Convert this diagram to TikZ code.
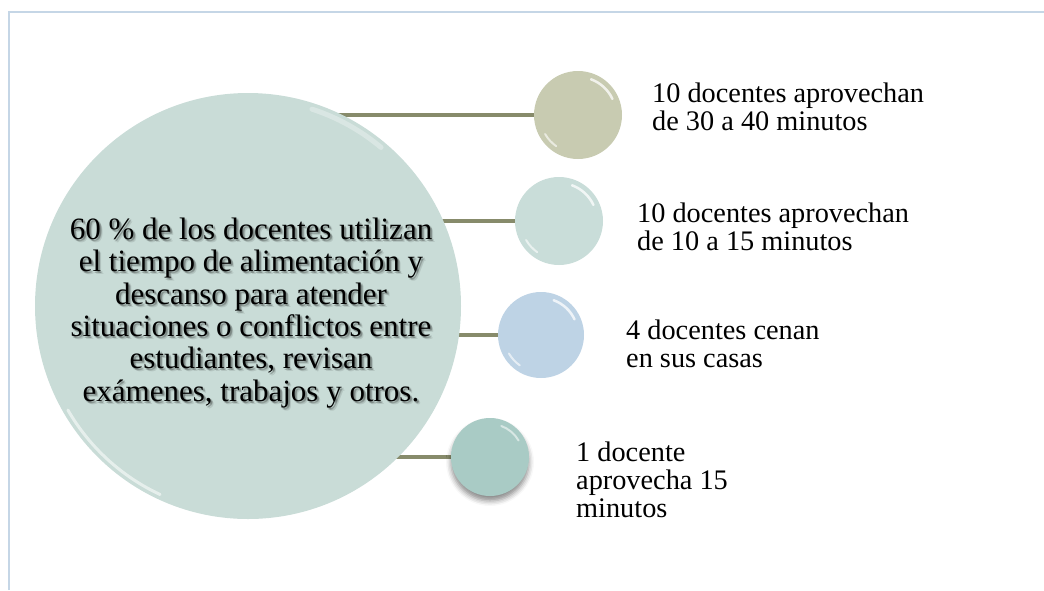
\documentclass[tikz,border=0pt]{standalone}
\usepackage{fontspec}
\setmainfont{Liberation Serif}
\usetikzlibrary{shadows.blur,calc}
\definecolor{bordc}{HTML}{C5D6E6}
\definecolor{linec}{HTML}{878B6B}
\definecolor{mainc}{HTML}{C9DCD7}
\definecolor{ca}{HTML}{C8CBB1}
\definecolor{cb}{HTML}{C9DDD9}
\definecolor{cc}{HTML}{BED3E5}
\definecolor{cd}{HTML}{A9CBC5}
\newcommand\maintext{60 \% de los docentes utilizan\\el tiempo de alimentación y\\descanso para atender\\situaciones o conflictos entre\\estudiantes, revisan\\exámenes, trabajos y otros.}
\begin{document}
\begin{tikzpicture}[x=1pt,y=-1pt,
  ball/.style={circle, inner sep=0pt, minimum size=#1},
  glint/.style={white, line cap=round},
  conn/.style={linec, line width=4.5pt},
  lbl/.style={anchor=west, inner sep=0pt, align=left, font=\fontsize{28.3}{28}\selectfont},
  mtext/.style={align=center, inner sep=0pt, font=\fontsize{31}{32.3}\selectfont}]
\useasboundingbox (0,0) rectangle (1044,590);
\draw[bordc, line width=2.5pt] (9,590) -- (9,12) -- (1044,12);

% nodes (shapes drawn later)
\node[ball=426] (m) at (248,306) {};
\node[ball=88] (c1) at (578,115) {};
\node[ball=88] (c2) at (559,221) {};
\node[ball=86] (c3) at (541,335) {};
\node[ball=78] (c4) at (490,457) {};

% connectors
\draw[conn] (m.center |- c1.center) -- (c1.center);
\draw[conn] (m.center |- c2.center) -- (c2.center);
\draw[conn] (m.center |- c3.center) -- (c3.center);
\draw[conn] (m.center |- c4.center) -- (c4.center);

% main circle
\fill[mainc] (m.center) circle[radius=213];
\draw[white, opacity=0.55, line width=3pt, line cap=round] ($(m.center)+(150:208)$) arc[start angle=150, end angle=115, radius=208];
\draw[white, opacity=0.3, line width=5pt, line cap=round] ($(m.center)+(-72:207)$) arc[start angle=-72, end angle=-50, radius=207];

% small balls
\foreach \n/\c/\r in {c1/ca/44, c2/cb/44, c3/cc/43} {
  \fill[\c] (\n.center) circle[radius=\r];
  \draw[glint, opacity=0.75, line width=2.5pt] ($(\n.center)+(-70:\r-6)$) arc[start angle=-70, end angle=-25, radius=\r-6];
  \draw[glint, opacity=0.6, line width=2pt] ($(\n.center)+(125:\r-6)$) arc[start angle=125, end angle=150, radius=\r-6];
}
\fill[cd, blur shadow={shadow xshift=0pt, shadow yshift=-5pt, shadow blur radius=5pt, shadow opacity=45}] (c4.center) circle[radius=39];
\draw[glint, opacity=0.55, line width=2pt] ($(c4.center)+(-70:33)$) arc[start angle=-70, end angle=-30, radius=33];

% main text with soft shadow
\foreach \dx/\dy/\op in {2/2/0.15, 3/3/0.1, 1/2/0.12, 2/1/0.12} {
  \node[mtext, text=black, opacity=\op] at ($(m.center)+(3+\dx,7+\dy)$) {\maintext};
}
\node[mtext] (mt) at ($(m.center)+(3,7)$) {\maintext};

% labels
\node[lbl] (l1) at (652,107) {10 docentes aprovechan\\de 30 a 40 minutos};
\node[lbl] (l2) at (637,227) {10 docentes aprovechan\\de 10 a 15 minutos};
\node[lbl] (l3) at (626,344) {4 docentes cenan\\en sus casas};
\node[lbl] (l4) at (576,480) {1 docente\\aprovecha 15\\minutos};
\end{tikzpicture}
\end{document}
